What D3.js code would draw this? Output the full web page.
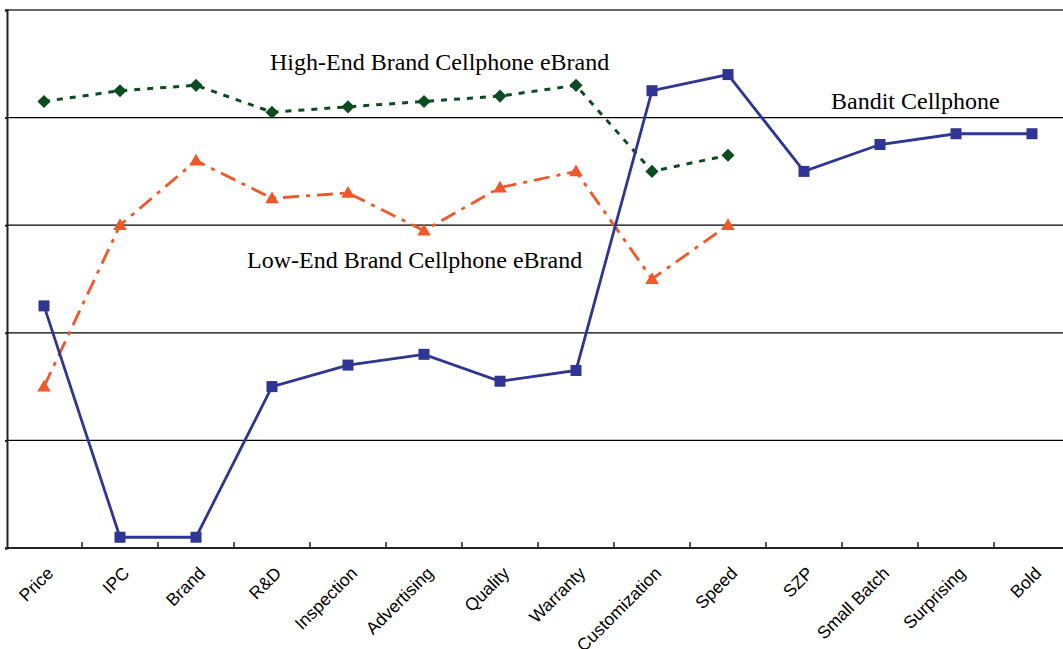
<!DOCTYPE html>
<html>
<head>
<meta charset="utf-8">
<script src="https://cdn.jsdelivr.net/npm/d3@7/dist/d3.min.js"></script>
<style>
  html, body { margin: 0; padding: 0; background: #fff; }
  svg { display: block; }
</style>
</head>
<body>
<svg id="chart" width="1063" height="649"></svg>
<script>
const categories = ["Price", "IPC", "Brand", "R&D", "Inspection", "Advertising", "Quality", "Warranty", "Customization", "Speed", "SZP", "Small Batch", "Surprising", "Bold"];
const banditValues = [2.25, 0.1, 0.1, 1.5, 1.7, 1.8, 1.55, 1.65, 4.25, 4.4, 3.5, 3.75, 3.85, 3.85];
const highEndValues = [4.15, 4.25, 4.3, 4.05, 4.1, 4.15, 4.2, 4.3, 3.5, 3.65];
const lowEndValues = [1.5, 3.0, 3.6, 3.25, 3.3, 2.95, 3.35, 3.5, 2.5, 3.0];
const yTicks = [0, 1, 2, 3, 4, 5];
const seriesLabels = ["High-End Brand Cellphone eBrand", "Low-End Brand Cellphone eBrand", "Bandit Cellphone"];

(function () {
const svg = d3.select("#chart");
const pLeft = 6, pRight = 1070, pTop = 10, pBottom = 548;

const x = d3.scaleBand().domain(categories).range([pLeft, pRight]).padding(0);
const y = d3.scaleLinear().domain([0, 5]).range([pBottom, pTop]);
const cx = d => x(d) + x.bandwidth() / 2;

// gridlines
svg.append("g").selectAll("line").data(yTicks.filter(t => t > 0 && t < 5)).join("line")
  .attr("x1", pLeft).attr("x2", 1063)
  .attr("y1", d => y(d)).attr("y2", d => y(d))
  .attr("stroke", "#000").attr("stroke-width", 1.2);

// top border
svg.append("line").attr("x1", pLeft).attr("x2", 1063).attr("y1", y(5)).attr("y2", y(5))
  .attr("stroke", "#666").attr("stroke-width", 2);

// left axis
const yAxis = d3.axisLeft(y).tickValues(yTicks).tickSize(2).tickFormat("");
const gy = svg.append("g").attr("transform", `translate(${pLeft + 1},0)`).call(yAxis);
gy.select(".domain").attr("stroke", "#222").attr("stroke-width", 2);
gy.selectAll(".tick line").attr("stroke", "#222").attr("stroke-width", 2);

// bottom axis with boundary ticks
const gx = svg.append("g").attr("transform", `translate(0,${pBottom})`);
gx.append("line").attr("x1", pLeft).attr("x2", 1063).attr("y1", 0).attr("y2", 0)
  .attr("stroke", "#222").attr("stroke-width", 2);
gx.selectAll("line.tk").data(categories.slice(1)).join("line").attr("class", "tk")
  .attr("x1", d => x(d)).attr("x2", d => x(d)).attr("y1", 0).attr("y2", -6)
  .attr("stroke", "#222").attr("stroke-width", 1.5);
gx.selectAll("text").data(categories).join("text")
  .attr("transform", d => `translate(${cx(d) + 6},${22}) rotate(-45)`)
  .attr("text-anchor", "end")
  .attr("dy", "0.35em")
  .attr("font-family", "Liberation Sans, Arial, sans-serif")
  .attr("font-size", 17.5)
  .attr("fill", "#000")
  .text(d => d);

const line = d3.line().x(d => cx(d.c)).y(d => y(d.v));
const toPts = vals => vals.map((v, i) => ({ c: categories[i], v }));

// High-End (green diamonds, dotted)
const hi = toPts(highEndValues);
svg.append("g").selectAll("path").data(hi).join("path")
  .attr("d", d3.symbol(d3.symbolDiamond2, 110)())
  .attr("transform", d => `translate(${cx(d.c)},${y(d.v)})`)
  .attr("fill", "#0b4d20");
svg.append("path").datum(hi).attr("d", line)
  .attr("fill", "none").attr("stroke", "#0b4d20").attr("stroke-width", 3)
  .attr("stroke-dasharray", "6,7");

// Low-End (orange triangles, dash-dot)
const lo = toPts(lowEndValues);
svg.append("g").selectAll("path").data(lo).join("path")
  .attr("d", d3.symbol(d3.symbolTriangle, 80)())
  .attr("transform", d => `translate(${cx(d.c)},${y(d.v) + 1})`)
  .attr("fill", "#f0582a");
svg.append("path").datum(lo).attr("d", line)
  .attr("fill", "none").attr("stroke", "#f0582a").attr("stroke-width", 2.8)
  .attr("stroke-dasharray", "16,7,4,7");

// Bandit (blue squares, solid)
const bd = toPts(banditValues);
svg.append("path").datum(bd).attr("d", line)
  .attr("fill", "none").attr("stroke", "#2e3592").attr("stroke-width", 2.8);
svg.append("g").selectAll("rect").data(bd).join("rect")
  .attr("x", d => cx(d.c) - 5.5).attr("y", d => y(d.v) - 5.5)
  .attr("width", 11).attr("height", 11)
  .attr("fill", "#2e3592");

// series labels
const labelPos = [[270, 70], [247, 268], [831, 109]];
svg.append("g").selectAll("text").data(seriesLabels).join("text")
  .attr("x", (d, i) => labelPos[i][0]).attr("y", (d, i) => labelPos[i][1])
  .attr("font-family", "Liberation Serif, Times New Roman, serif")
  .attr("font-size", 24)
  .attr("fill", "#000")
  .text(d => d);
})();
</script>
</body>
</html>
